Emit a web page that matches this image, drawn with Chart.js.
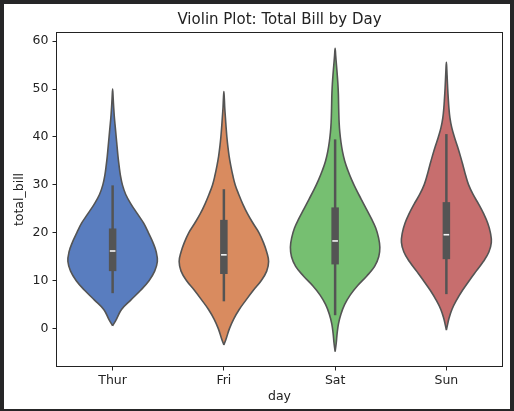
<!DOCTYPE html>
<html>
<head>
<meta charset="utf-8">
<title>Violin Plot: Total Bill by Day</title>
<script src="https://cdn.jsdelivr.net/npm/chart.js@4/dist/chart.umd.min.js"></script>
<style>
  html, body { margin: 0; padding: 0; background: #262627; }
  #wrap { position: absolute; left: 4px; top: 4px; width: 506px; height: 405px; background: #fff; }
</style>
</head>
<body>
<div id="wrap"><canvas id="chart"></canvas></div>
<script>
const days = ['Thur', 'Fri', 'Sat', 'Sun'];
const dayColors = ['#597dbf', '#d98b5f', '#76bf71', '#c76e6e'];
const yTicks = [0, 10, 20, 30, 40, 50, 60];

// violin outlines: total_bill level and half width (category units)
const thurLevels    = [0.6, 2, 4, 6, 8, 10, 12, 14, 16, 18, 20, 22, 24, 26, 28, 30, 32, 34, 36, 38, 40, 42, 44, 46, 48, 50];
const thurHalfWidth = [0, 0.035, 0.080, 0.165, 0.252, 0.327, 0.378, 0.402, 0.392, 0.362, 0.322, 0.279, 0.222, 0.165, 0.118, 0.088, 0.070, 0.058, 0.048, 0.040, 0.032, 0.024, 0.016, 0.010, 0.005, 0];

const friLevels    = [-3.4, -2, 0, 2, 4, 6, 8, 10, 12, 14, 16, 18, 20, 22, 24, 26, 28, 30, 32, 34, 36, 38, 40, 42, 44, 46, 48, 49.5];
const friHalfWidth = [0, 0.022, 0.050, 0.088, 0.138, 0.200, 0.265, 0.335, 0.385, 0.402, 0.385, 0.355, 0.316, 0.262, 0.212, 0.170, 0.134, 0.102, 0.080, 0.062, 0.047, 0.036, 0.027, 0.020, 0.014, 0.008, 0.004, 0];

const satLevels    = [-4.8, -3, -1, 1, 3, 5, 7, 9, 11, 13, 15, 17, 19, 21, 23, 25, 27, 29, 31, 33, 35, 37, 39, 41, 43, 45, 47, 49, 51, 53, 55, 57, 58.5];
const satHalfWidth = [0, 0.010, 0.018, 0.030, 0.052, 0.085, 0.135, 0.203, 0.285, 0.355, 0.392, 0.402, 0.390, 0.365, 0.325, 0.280, 0.235, 0.190, 0.150, 0.115, 0.086, 0.066, 0.052, 0.042, 0.036, 0.033, 0.031, 0.029, 0.025, 0.019, 0.012, 0.005, 0];

const sunLevels    = [-0.3, 1, 2, 4, 6, 8, 10, 12, 14, 16, 18, 20, 22, 24, 26, 28, 30, 32, 34, 36, 38, 40, 42, 44, 46, 48, 50, 52, 54, 55.6];
const sunHalfWidth = [0, 0.012, 0.022, 0.050, 0.093, 0.145, 0.205, 0.268, 0.332, 0.382, 0.404, 0.396, 0.372, 0.335, 0.290, 0.240, 0.200, 0.173, 0.150, 0.126, 0.100, 0.072, 0.048, 0.032, 0.023, 0.017, 0.012, 0.008, 0.004, 0];

// inner box: whiskers, quartiles, median
const whiskerLow  = [7.4, 5.7, 2.8, 7.2];
const quartile1   = [12.0, 11.4, 13.4, 14.5];
const medians     = [16.2, 15.4, 18.3, 19.6];
const quartile3   = [20.9, 22.7, 25.3, 26.4];
const whiskerHigh = [29.9, 29.1, 39.5, 40.6];

const violinLevels = [thurLevels, friLevels, satLevels, sunLevels];
const violinWidths = [thurHalfWidth, friHalfWidth, satHalfWidth, sunHalfWidth];

const lineGray = '#545454';
const textColor = '#222';
const tickFont = { family: 'DejaVu Sans', size: 12.5 };

// left edge going up, then right edge coming down
function violinOutline(center, levels, halfWidth) {
    const pts = [];
    for (let i = 0; i < levels.length; i++) {
        pts.push({ x: center - halfWidth[i], y: levels[i] });
    }
    for (let i = levels.length - 2; i >= 0; i--) {
        pts.push({ x: center + halfWidth[i], y: levels[i] });
    }
    return pts;
}

const datasets = [];
days.forEach((day, i) => {
    datasets.push({
        label: day,
        data: violinOutline(i, violinLevels[i], violinWidths[i]),
        backgroundColor: dayColors[i],
        borderColor: lineGray,
        borderWidth: 1.6,
        fill: 'shape',
        tension: 0.4,
        pointRadius: 0,
        order: 4
    });
    datasets.push({
        data: [{ x: i, y: whiskerLow[i] }, { x: i, y: whiskerHigh[i] }],
        borderColor: lineGray,
        borderWidth: 2.5,
        borderCapStyle: 'butt',
        pointRadius: 0,
        fill: false,
        order: 3
    });
    datasets.push({
        data: [{ x: i, y: quartile1[i] }, { x: i, y: quartile3[i] }],
        borderColor: lineGray,
        borderWidth: 7.5,
        borderCapStyle: 'butt',
        pointRadius: 0,
        fill: false,
        order: 2
    });
    datasets.push({
        data: [{ x: i, y: medians[i] }],
        showLine: false,
        pointStyle: 'line',
        pointRadius: 2.8,
        pointBorderColor: '#f5f5f5',
        pointBorderWidth: 1.6,
        order: 1
    });
});

const framePlugin = {
    id: 'frame',
    afterDraw(chart) {
        const { ctx, chartArea: a } = chart;
        ctx.save();
        ctx.strokeStyle = textColor;
        ctx.lineWidth = 1;
        ctx.strokeRect(Math.round(a.left) - 0.5, Math.round(a.top) - 0.5,
            Math.round(a.right - a.left) + 1, Math.round(a.bottom - a.top) + 1);
        ctx.restore();
    }
};

new Chart(document.getElementById('chart'), {
    type: 'line',
    data: { datasets: datasets },
    plugins: [framePlugin],
    options: {
        responsive: true,
        maintainAspectRatio: false,
        animation: false,
        layout: { padding: { left: 0, right: 8, top: 0, bottom: 0 } },
        plugins: {
            legend: { display: false },
            tooltip: { enabled: false },
            title: {
                display: true,
                text: 'Violin Plot: Total Bill by Day',
                color: textColor,
                font: { family: 'DejaVu Sans', size: 15, weight: 'normal' },
                padding: { top: 7, bottom: 4 },
                fullSize: false
            }
        },
        scales: {
            x: {
                type: 'linear',
                min: -0.5,
                max: 3.5,
                afterBuildTicks: scale => { scale.ticks = days.map((d, i) => ({ value: i })); },
                afterFit: scale => { scale.height = 43; },
                ticks: {
                    callback: value => days[value],
                    color: textColor,
                    font: tickFont,
                    padding: 3,
                    autoSkip: false,
                    maxRotation: 0
                },
                grid: { drawOnChartArea: false, tickLength: 4.5, color: textColor },
                border: { display: false },
                title: { display: true, text: 'day', color: textColor, font: tickFont, padding: { top: 0, bottom: 4.5 } }
            },
            y: {
                min: -7.8,
                max: 61.7,
                afterBuildTicks: scale => { scale.ticks = yTicks.map(v => ({ value: v })); },
                afterFit: scale => { scale.width = 53; },
                ticks: { color: textColor, font: tickFont, padding: 4 },
                grid: { drawOnChartArea: false, tickLength: 4.5, color: textColor },
                border: { display: false },
                title: { display: true, text: 'total_bill', color: textColor, font: tickFont, padding: { top: 8.5, bottom: 0 } }
            }
        }
    }
});
</script>
</body>
</html>
